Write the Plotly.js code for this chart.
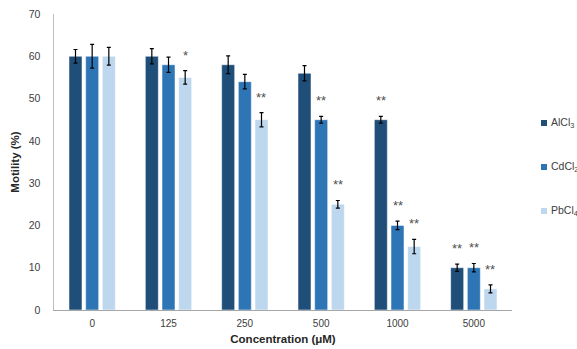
<!DOCTYPE html>
<html>
<head>
<meta charset="utf-8">
<script src="https://cdn.plot.ly/plotly-3.0.1.min.js"></script>
<style>html,body{margin:0;padding:0;background:#fff;}#chart{width:577px;height:349px;}</style>
</head>
<body>
<div id="chart"></div>
<script>
const categories = ['0', '125', '250', '500', '1000', '5000'];
const seriesNames = ['AlCl<sub>3</sub>', 'CdCl<sub>2</sub>', 'PbCl<sub>4</sub>'];
const alcl3 = [60, 60, 58, 56, 45, 10];
const cdcl2 = [60, 58, 54, 45, 20, 10];
const pbcl4 = [60, 55, 45, 25, 15, 5];
const alcl3Err = [1.6, 1.8, 2.1, 1.8, 0.8, 0.85];
const cdcl2Err = [2.8, 1.8, 1.7, 0.8, 1.0, 1.0];
const pbcl4Err = [2.1, 1.6, 1.7, 0.9, 1.7, 0.95];
const alcl3Sig = ['', '', '', '', '**', '**'];
const cdcl2Sig = ['', '', '', '**', '**', '**'];
const pbcl4Sig = ['', '*', '**', '**', '**', '**'];
const colors = ['#1F4E79', '#2E75B6', '#BDD7EE'];

const values = [alcl3, cdcl2, pbcl4];
const errs = [alcl3Err, cdcl2Err, pbcl4Err];
const sigs = [alcl3Sig, cdcl2Sig, pbcl4Sig];
const idx = categories.map((c, i) => i);

const W = 577, H = 349;
const margin = {l: 54, r: 65, t: 14, b: 39, autoexpand: false};
const bargap = 0.345, bargroupgap = 0.22;
const plotW = W - margin.l - margin.r;
const plotH = H - margin.t - margin.b;
const slotPx = plotW / categories.length * (1 - bargap) / 3;

const traces = values.map((v, i) => ({
  type: 'bar',
  name: seriesNames[i],
  x: idx,
  y: v,
  showlegend: false,
  marker: {color: colors[i], line: {color: 'rgba(255,255,255,0.5)', width: 1}},
  error_y: {type: 'data', array: errs[i], visible: true, color: '#000', thickness: 1.2, width: 2}
}));

const annotations = [];
const shapes = [];
sigs.forEach((s, i) => {
  s.forEach((t, j) => {
    if (!t) return;
    annotations.push({
      x: idx[j], y: values[i][j] + errs[i][j],
      xref: 'x', yref: 'y', text: t, showarrow: false,
      xshift: (i - 1) * slotPx, yanchor: 'bottom', yshift: 6,
      font: {family: 'Liberation Sans, Arial, sans-serif', size: 13, color: '#505050'}
    });
  });
});

// custom legend (paper coordinates)
const legX = (541 - margin.l) / plotW;      // left edge of swatch
const legSw = 6 / plotW, legSh = 6 / plotH;
const legY0 = (H - margin.b - 123) / plotH;  // first item centre
const legStep = 44 / plotH;
seriesNames.forEach((n, i) => {
  const yc = legY0 - i * legStep;
  shapes.push({type: 'rect', xref: 'paper', yref: 'paper',
    x0: legX, x1: legX + legSw, y0: yc - legSh / 2, y1: yc + legSh / 2,
    fillcolor: colors[i], line: {width: 0}});
  annotations.push({xref: 'paper', yref: 'paper', x: legX + legSw + 1.5 / plotW, y: yc,
    xanchor: 'left', yanchor: 'middle', text: n, showarrow: false,
    font: {family: 'Liberation Sans, Arial, sans-serif', size: 10.5, color: '#404040'}});
});

const layout = {
  width: W, height: H, margin: margin,
  paper_bgcolor: '#fff', plot_bgcolor: '#fff',
  barmode: 'group', bargap: bargap, bargroupgap: bargroupgap,
  font: {family: 'Liberation Sans, Arial, sans-serif', size: 10, color: '#404040'},
  showlegend: false,
  xaxis: {
    range: [-0.5, categories.length - 0.5],
    tickmode: 'array', tickvals: idx, ticktext: categories,
    showline: true, linecolor: '#A6A6A6', linewidth: 1,
    ticks: '', showgrid: false, zeroline: false, ticklabelstandoff: 4,
    tickfont: {size: 10, color: '#404040'},
    title: {text: 'Concentration (μM)', font: {size: 11.5, color: '#262626', weight: 'bold'}, standoff: 6}
  },
  yaxis: {
    range: [0, 70], dtick: 10, showline: true, linecolor: '#BFBFBF', linewidth: 1.5,
    ticks: '', showgrid: false, zeroline: false, ticklabelstandoff: 10,
    tickfont: {size: 10.5, color: '#404040'},
    title: {text: 'Motility (%)', font: {size: 11.5, color: '#262626', weight: 'bold'}, standoff: 6}
  },
  shapes: shapes,
  annotations: annotations
};

Plotly.newPlot('chart', traces, layout, {staticPlot: true});
</script>
</body>
</html>
